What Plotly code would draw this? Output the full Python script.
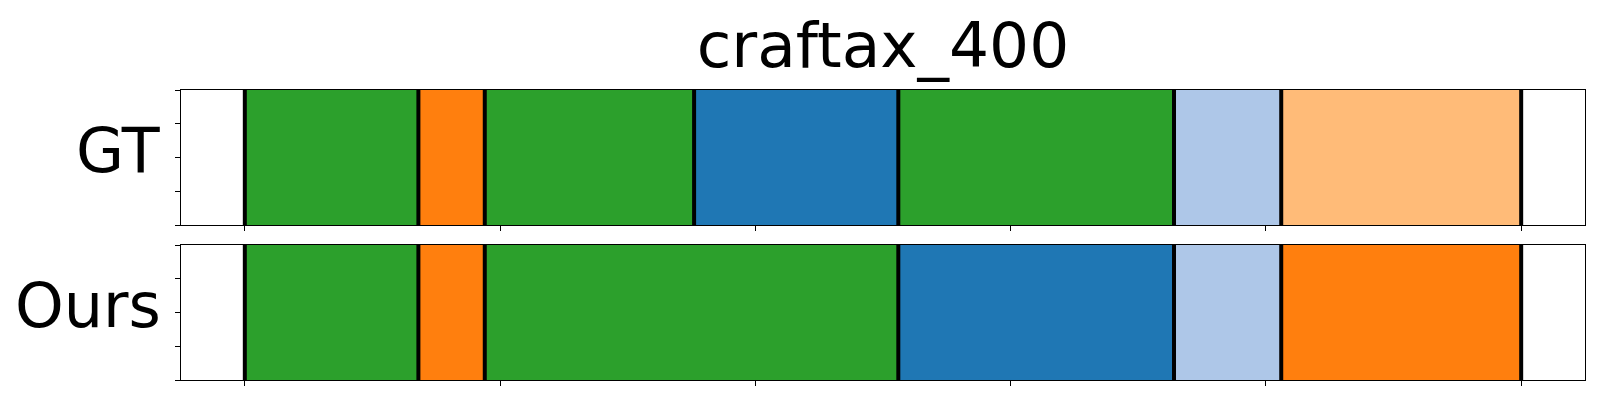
import plotly.graph_objects as go
from plotly.subplots import make_subplots

# ---- data ----
title_text = "craftax_400"
row_labels = ["GT", "Ours"]
total_len = 250
x_ticks = [0, 50, 100, 150, 200, 250]
y_ticks = [0, 0.25, 0.5, 0.75, 1.0]

gt_bounds = [0, 34, 47, 88, 128, 182, 203, 250]
gt_classes = ["green", "orange", "green", "blue", "green", "lightblue", "lightorange"]

ours_bounds = [0, 34, 47, 128, 182, 203, 250]
ours_classes = ["green", "orange", "green", "blue", "lightblue", "orange"]

palette = {
    "blue": "#1f77b4",
    "lightblue": "#aec7e8",
    "orange": "#ff7f0e",
    "lightorange": "#ffbb78",
    "green": "#2ca02c",
}

# ---- figure ----
fig = make_subplots(rows=2, cols=1, shared_xaxes=False, vertical_spacing=0.069)

rows = [(gt_bounds, gt_classes), (ours_bounds, ours_classes)]
for r, (bounds, classes) in enumerate(rows, start=1):
    starts = bounds[:-1]
    lengths = [bounds[i + 1] - bounds[i] for i in range(len(bounds) - 1)]
    fig.add_trace(
        go.Bar(
            orientation="h",
            y=[0.5] * len(starts),
            x=lengths,
            base=starts,
            width=1.0,
            marker=dict(color=[palette[c] for c in classes], line=dict(width=0)),
            showlegend=False,
            hoverinfo="skip",
        ),
        row=r, col=1,
    )
    xref = "x" if r == 1 else "x2"
    yref = "y domain" if r == 1 else "y2 domain"
    for b in bounds:
        fig.add_shape(type="line", x0=b, x1=b, y0=0, y1=1, xref=xref, yref=yref,
                      line=dict(color="black", width=4), layer="above")
    fig.add_annotation(
        text=row_labels[r - 1], xref="paper", yref=yref, x=-0.0128, y=0.555,
        xanchor="right", yanchor="middle", showarrow=False,
        font=dict(family="DejaVu Sans", size=62, color="black"),
    )

axis_common = dict(showgrid=False, zeroline=False, showline=True, linecolor="black",
                   linewidth=1.2, mirror=True, ticks="outside", ticklen=5,
                   tickwidth=1, tickcolor="black", showticklabels=False)

for r in (1, 2):
    fig.update_xaxes(range=[-0.05 * total_len, 1.05 * total_len], tickvals=x_ticks,
                     row=r, col=1, **axis_common)
    fig.update_yaxes(range=[0, 1], tickvals=y_ticks, row=r, col=1, **axis_common)

fig.update_layout(
    width=1584, height=384,
    margin=dict(l=173, r=7, t=82, b=12),
    paper_bgcolor="white", plot_bgcolor="white",
    bargap=0, barmode="overlay",
    title=dict(text=title_text, x=0.5, xanchor="center", xref="paper",
               y=0.905, yanchor="middle", yref="container",
               font=dict(family="DejaVu Sans", size=63, color="black")),
    font=dict(family="DejaVu Sans"),
)

fig.write_html("out.html")
